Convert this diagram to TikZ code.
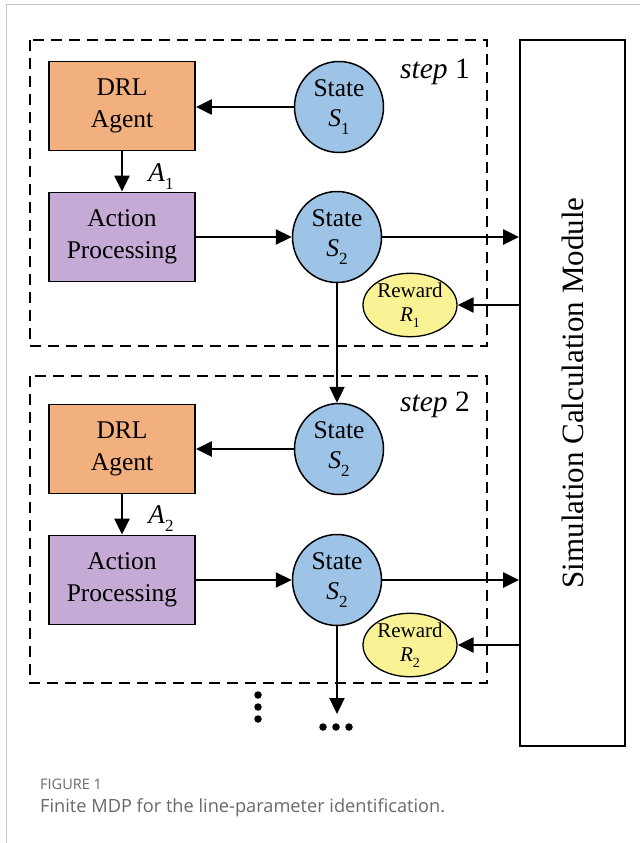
\documentclass[tikz,border=0pt]{standalone}
\usepackage{fontspec}
\setmainfont{Liberation Serif}
\newfontfamily\capfont{Open Sans}
\usetikzlibrary{arrows.meta,shapes.geometric}
\definecolor{agentc}{RGB}{242,176,126}
\definecolor{actc}{RGB}{198,170,214}
\definecolor{statec}{RGB}{157,195,230}
\definecolor{rewc}{RGB}{250,243,150}
\definecolor{capgray}{RGB}{105,105,105}
\definecolor{framegray}{RGB}{200,200,200}
\newcommand\symsub[2]{\textit{#1}\raisebox{-0.3em}{\fontsize{17}{17}\selectfont #2}}
\newcommand\symsubs[2]{\textit{#1}\raisebox{-0.3em}{\fontsize{14}{14}\selectfont #2}}
\tikzset{
  boxnode/.style={draw, line width=1.8pt, minimum width=146pt, minimum height=89pt, inner sep=0pt, align=center, font=\fontsize{25.5}{32}\selectfont},
  agentbox/.style={boxnode, fill=agentc},
  actbox/.style={boxnode, fill=actc},
  statenode/.style={ellipse, draw, line width=1.5pt, fill=statec, minimum width=89pt, minimum height=91pt, inner sep=0pt, align=center, font=\fontsize{25.5}{30}\selectfont},
  rewnode/.style={ellipse, draw, line width=1.3pt, fill=rewc, minimum width=94pt, minimum height=55pt, inner sep=0pt, align=center, font=\fontsize{21}{24}\selectfont},
  stepframe/.style={draw, line width=1.8pt, dash pattern=on 11pt off 7pt},
  arr/.style={line width=2.3pt, -{Triangle[length=16pt,width=15pt]}},
  lbl/.style={font=\fontsize{29.5}{31}\selectfont, inner sep=0pt},
  dot/.style={fill, circle, inner sep=0pt, minimum size=7.5pt}
}
\begin{document}
\begin{tikzpicture}[x=1pt,y=-1pt]
\useasboundingbox (0,0) rectangle (640,843);
% page frame
\draw[framegray, line width=1pt] (6,843) -- (6,5) -- (640,5);
% step frames
\draw[stepframe] (30,40) rectangle (487,346);
\draw[stepframe] (30,376) rectangle (487,683);
\node[lbl, anchor=east] (step1) at (470,72) {\textit{step} 1};
\node[lbl, anchor=east] (step2) at (470,405) {\textit{step} 2};
% simulation module
\node[draw, line width=1.8pt, minimum width=105pt, minimum height=706pt, inner sep=0pt] (sim) at (572.5,393) {};
\node[rotate=90, font=\fontsize{31}{33}\selectfont] (simtxt) at (sim.center) {Simulation Calculation Module};
% step 1
\node[agentbox] (drl1) at (122,106) {DRL\\Agent};
\node[actbox] (act1) at (122,237) {Action\\Processing};
\node[statenode] (s1) at (339,107) {State\\\symsub{S}{1}};
\node[statenode] (s2a) at (337,237) {State\\\symsub{S}{2}};
\node[rewnode] (r1) at (410,305) {Reward\\\symsubs{R}{1}};
\node[lbl, font=\fontsize{27}{30}\selectfont] (a1) at (161,177) {\symsub{A}{1}};
% step 2
\node[agentbox] (drl2) at (122,449) {DRL\\Agent};
\node[actbox] (act2) at (122,580) {Action\\Processing};
\node[statenode] (s2b) at (339,449) {State\\\symsub{S}{2}};
\node[statenode] (s2c) at (337,580) {State\\\symsub{S}{2}};
\node[rewnode] (r2) at (410,645) {Reward\\\symsubs{R}{2}};
\node[lbl, font=\fontsize{27}{30}\selectfont] (a2) at (161,519) {\symsub{A}{2}};
% arrows step 1
\draw[arr] (s1.west) -- (drl1.east |- s1.west);
\draw[arr] (drl1.south) -- (act1.north);
\draw[arr] (act1.east) -- (s2a.west);
\draw[arr] (s2a.east) -- (s2a.east -| sim.west);
\draw[arr] (sim.west |- r1.east) -- (r1.east);
\draw[arr] (s2a.south) -- (s2a.south |- s2b.north);
% arrows step 2
\draw[arr] (s2b.west) -- (drl2.east |- s2b.west);
\draw[arr] (drl2.south) -- (act2.north);
\draw[arr] (act2.east) -- (s2c.west);
\draw[arr] (s2c.east) -- (s2c.east -| sim.west);
\draw[arr] (sim.west |- r2.east) -- (r2.east);
\coordinate (endc) at (337,714);
\draw[arr] (s2c.south) -- (endc);
% dots
\node[dot] (h1) at (323,727) {};
\node[dot] (h2) at (336,727) {};
\node[dot] (h3) at (349,727) {};
\node[dot] (v1) at (258,695) {};
\node[dot] (v2) at (258,707) {};
\node[dot] (v3) at (258,719) {};
% caption
\node[anchor=base west, inner sep=0pt, text=capgray, font=\capfont\fontsize{14.5}{16}\selectfont] (figlbl) at (40,789) {FIGURE 1};
\node[anchor=base west, inner sep=0pt, text=capgray, font=\capfont\fontsize{18.2}{20}\selectfont] (cap) at (40,812) {Finite MDP for the line-parameter identification.};
\end{tikzpicture}
\end{document}
